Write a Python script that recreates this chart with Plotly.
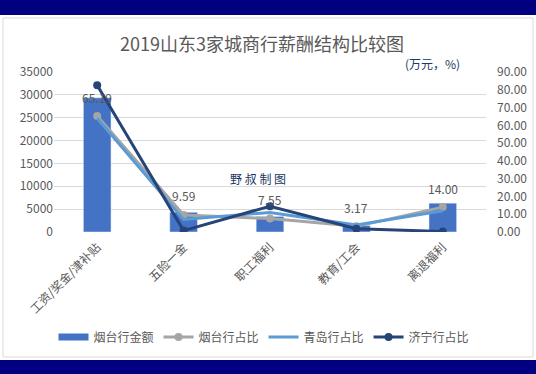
import plotly.graph_objects as go

categories = ["工资/奖金/津补贴", "五险一金", "职工福利", "教育/工会", "离退福利"]
yantai_amount = [29340, 4316, 3398, 1427, 6300]
yantai_pct = [65.19, 9.59, 7.55, 3.17, 14.00]
qingdao_pct = [64.0, 7.0, 11.0, 4.0, 12.0]
jining_pct = [82.5, 0.8, 14.5, 1.8, 0.3]
left_ticks = [0, 5000, 10000, 15000, 20000, 25000, 30000, 35000]
right_ticks = [0, 10, 20, 30, 40, 50, 60, 70, 80, 90]

W, H = 536, 374
L, R, T, B = 54, 50, 72, 142
PW, PH = W - L - R, H - T - B


def px(x):
    return (x - L) / PW


def py(y):
    return (H - B - y) / PH


FONT = "Noto Sans CJK SC, sans-serif"
GRAY_TXT = "#595959"

fig = go.Figure()
fig.add_trace(go.Bar(x=categories, y=yantai_amount, name="烟台行金额",
                     marker=dict(color="#4472C4"), yaxis="y", showlegend=False))
# legend-only swatch for the bar series (wide rectangle like the original)
fig.add_trace(go.Scatter(x=[None], y=[None], name="烟台行金额", mode="lines",
                         line=dict(color="#4472C4", width=7), yaxis="y"))
fig.add_trace(go.Scatter(x=categories, y=yantai_pct, name="烟台行占比", mode="lines+markers",
                         line=dict(color="#A5A5A5", width=3), marker=dict(size=8, color="#A5A5A5"),
                         yaxis="y2"))
fig.add_trace(go.Scatter(x=categories, y=qingdao_pct, name="青岛行占比", mode="lines",
                         line=dict(color="#5B9BD5", width=3), yaxis="y2"))
fig.add_trace(go.Scatter(x=categories, y=jining_pct, name="济宁行占比", mode="lines+markers",
                         line=dict(color="#264478", width=3), marker=dict(size=8, color="#264478"),
                         yaxis="y2"))

annotations = []
for c, v in zip(categories, yantai_pct):
    annotations.append(dict(x=c, y=v, xref="x", yref="y2", text=f"{v:.2f}", showarrow=False,
                            yshift=19, font=dict(size=12, color=GRAY_TXT, family=FONT)))
annotations.append(dict(x=px(462), y=py(64), xref="paper", yref="paper", text="(万元，%)",
                        showarrow=False, xanchor="right", yanchor="middle",
                        font=dict(size=12, color="#203864", family=FONT)))
annotations.append(dict(x=px(258), y=py(178), xref="paper", yref="paper", text="野 叔 制 图",
                        showarrow=False, xanchor="center", yanchor="middle",
                        font=dict(size=12, color="#203864", family=FONT)))

shapes = [
    dict(type="rect", xref="paper", yref="paper", x0=px(3), x1=px(533), y0=py(357), y1=py(18),
         line=dict(color="#D9D9D9", width=1), fillcolor="rgba(0,0,0,0)", layer="below"),
    dict(type="rect", xref="paper", yref="paper", x0=px(0), x1=px(536), y0=py(15), y1=py(0),
         line=dict(width=0), fillcolor="#000080"),
    dict(type="rect", xref="paper", yref="paper", x0=px(0), x1=px(536), y0=py(374), y1=py(360),
         line=dict(width=0), fillcolor="#000080"),
]

fig.update_layout(
    width=W, height=H,
    margin=dict(l=L, r=R, t=T, b=B),
    paper_bgcolor="white", plot_bgcolor="rgba(0,0,0,0)",
    font=dict(family=FONT, size=12, color=GRAY_TXT),
    title=dict(text="2019山东3家城商行薪酬结构比较图", x=262 / W, xanchor="center",
               y=1 - 45 / H, yanchor="middle", font=dict(size=18, color=GRAY_TXT, family=FONT)),
    bargap=0.68,
    xaxis=dict(tickangle=-45, showgrid=False, showline=False, ticks="", automargin=False,
               ticklabelstandoff=5, tickfont=dict(size=12, color=GRAY_TXT)),
    yaxis=dict(range=[0, 35000], tickvals=left_ticks, ticktext=[str(v) for v in left_ticks],
               showgrid=True, gridcolor="#D9D9D9", automargin=False,
               gridwidth=1, zeroline=False, showline=False, ticks="",
               tickfont=dict(size=12, color=GRAY_TXT)),
    yaxis2=dict(range=[0, 90], tickvals=right_ticks, tickformat=".2f", overlaying="y",
                side="right", showgrid=False, zeroline=False, showline=False, ticks="",
                automargin=False, ticklabelstandoff=10, tickfont=dict(size=12, color=GRAY_TXT)),
    legend=dict(orientation="h", x=0.5 + (264 - (L + PW / 2)) / PW, xanchor="center",
                y=py(337), yanchor="middle", font=dict(size=12, color=GRAY_TXT),
                itemwidth=30, traceorder="normal", bgcolor="rgba(0,0,0,0)"),
    annotations=annotations,
    shapes=shapes,
    showlegend=True,
)

fig.write_html("out.html", config={"displayModeBar": False},
               post_script="document.body.style.margin='0';")
